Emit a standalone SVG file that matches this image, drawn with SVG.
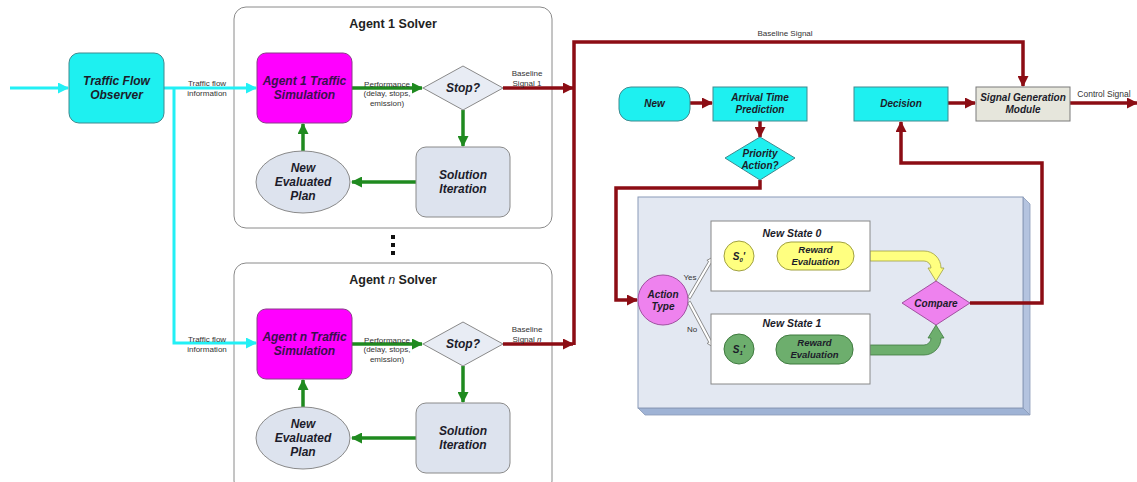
<svg xmlns="http://www.w3.org/2000/svg" width="1137" height="482" viewBox="0 0 1137 482">
<style>
text{font-family:"Liberation Sans",Arial,sans-serif;}
.nt{font-weight:bold;font-style:italic;font-size:12px;fill:#1c1c2a;text-anchor:middle;}
.n10{font-weight:bold;font-style:italic;font-size:10px;fill:#1c1c2a;text-anchor:middle;}
.rw{font-weight:bold;font-style:italic;font-size:9.5px;fill:#1c1c2a;text-anchor:middle;}
.st{font-weight:bold;font-style:italic;font-size:12px;fill:#3a0f4e;text-anchor:middle;}
.sm{font-size:8px;fill:#333;text-anchor:middle;}
.ti{font-weight:bold;font-size:12.5px;fill:#222;text-anchor:middle;}
.cont{fill:#fff;stroke:#8a8a8a;stroke-width:1;}
.sim{fill:#ff00ff;stroke:#8a3a8a;stroke-width:1;}
.grey{fill:#dde3ee;stroke:#8a8a8a;stroke-width:1;}
.dia{fill:#e8ecf4;stroke:#8a8a8a;stroke-width:1;}
.cy{fill:#1ef0f0;stroke:#3f8a8f;stroke-width:1;}
.cyl{stroke:#22f0f5;stroke-width:3;fill:none;}
.gl{stroke:#1f8a1f;stroke-width:3.5;fill:none;}
.rl{stroke:#8c0d14;stroke-width:3.5;fill:none;}
.vi{fill:#ee82ee;stroke:#a050a0;stroke-width:1;}
.hol{fill:#fff;stroke:#808080;stroke-width:0.8;}
</style>
<defs>
<marker id="ac" markerUnits="userSpaceOnUse" markerWidth="11" markerHeight="11" refX="10" refY="5.5" orient="auto"><path d="M0,0 L11,5.5 L0,11 z" fill="#22f0f5"/></marker>
<marker id="ag" markerUnits="userSpaceOnUse" markerWidth="11" markerHeight="11" refX="10" refY="5.5" orient="auto"><path d="M0,0 L11,5.5 L0,11 z" fill="#1f8a1f"/></marker>
<marker id="ar" markerUnits="userSpaceOnUse" markerWidth="11" markerHeight="11" refX="10" refY="5.5" orient="auto"><path d="M0,0 L11,5.5 L0,11 z" fill="#8c0d14"/></marker>
</defs>

<!-- containers -->
<g id="agent1-solver">
<rect class="cont" x="234" y="7" width="318" height="221" rx="12"/>
<text class="ti" x="393" y="28">Agent 1 Solver</text>
</g>
<g id="agentn-solver">
<rect class="cont" x="234" y="263" width="318" height="230" rx="12"/>
<text class="ti" x="393" y="284">Agent <tspan font-style="italic" font-weight="normal">n</tspan> Solver</text>
</g>
<g id="dots">
<rect x="391" y="235" width="4" height="4" fill="#111"/>
<rect x="391" y="243" width="4" height="4" fill="#111"/>
<rect x="391" y="251" width="4" height="4" fill="#111"/>
</g>
<g id="rl-panel">
<polygon points="1023,197 1030,204 1030,415 1023,408" fill="#b4c3df" stroke="#8a9ab8" stroke-width="0.8"/>
<polygon points="638,408 1023,408 1030,415 645,415" fill="#9fb3d5" stroke="#8a9ab8" stroke-width="0.8"/>
<rect x="638" y="197" width="385" height="211" fill="#e3e8f2" stroke="#8a9ab8" stroke-width="1"/>
</g>

<!-- connectors -->
<g id="connectors">
<line class="cyl" x1="10" y1="88" x2="68" y2="88" marker-end="url(#ac)"/>
<line class="cyl" x1="164" y1="88" x2="256" y2="88" marker-end="url(#ac)"/>
<polyline class="cyl" points="174,88 174,343 256,343" marker-end="url(#ac)"/>

<line class="gl" x1="352" y1="88" x2="422" y2="88" marker-end="url(#ag)"/>
<line class="gl" x1="463" y1="110" x2="463" y2="146" marker-end="url(#ag)"/>
<line class="gl" x1="416" y1="182" x2="352" y2="182" marker-end="url(#ag)"/>
<line class="gl" x1="303" y1="151" x2="303" y2="124" marker-end="url(#ag)"/>
<line class="gl" x1="352" y1="344" x2="422" y2="344" marker-end="url(#ag)"/>
<line class="gl" x1="463" y1="366" x2="463" y2="402" marker-end="url(#ag)"/>
<line class="gl" x1="416" y1="438" x2="352" y2="438" marker-end="url(#ag)"/>
<line class="gl" x1="303" y1="407" x2="303" y2="380" marker-end="url(#ag)"/>

<line class="rl" x1="503" y1="88" x2="573" y2="88" marker-end="url(#ar)"/>
<line class="rl" x1="503" y1="344" x2="573" y2="344" marker-end="url(#ar)"/>
<polyline class="rl" points="574,345 574,42 1023,42 1023,86" marker-end="url(#ar)"/>
<line class="rl" x1="690" y1="103" x2="712" y2="103" marker-end="url(#ar)"/>
<line class="rl" x1="760" y1="121" x2="760" y2="137" marker-end="url(#ar)"/>
<polyline class="rl" points="760,180 760,188 616,188 616,300 637,300" marker-end="url(#ar)"/>
<line class="rl" x1="948" y1="103" x2="975" y2="103" marker-end="url(#ar)"/>
<line class="rl" x1="1070" y1="103" x2="1137" y2="103" marker-end="url(#ar)"/>
<polyline class="rl" points="970,303 1042,303 1042,163 901,163 901,122" marker-end="url(#ar)"/>

<polygon class="hol" transform="translate(689,298) rotate(-59.7)" points="0,-1.5 41.5,-1.5 41.5,-3.5 47.5,0 41.5,3.5 41.5,1.5 0,1.5"/>
<polygon class="hol" transform="translate(689,302) rotate(61.9)" points="0,-1.5 45,-1.5 45,-3.5 51,0 45,3.5 45,1.5 0,1.5"/>
<path d="M870,251 H924 A17,17 0 0 1 941,268 H944 L936,281 L928,268 H931 A7,7 0 0 0 924,261 H870 Z" fill="#ffff80" stroke="#a0a040" stroke-width="0.8"/>
<path d="M870,355 H924 A17,17 0 0 0 941,338 H944 L936,325 L928,338 H931 A7,7 0 0 1 924,345 H870 Z" fill="#6dae6d" stroke="#3f7a3f" stroke-width="0.8"/>

<text class="sm" x="207" y="86">Traffic flow</text>
<text class="sm" x="207" y="96">information</text>
<text class="sm" x="207" y="342">Traffic flow</text>
<text class="sm" x="207" y="352">information</text>
<text class="sm" x="387" y="87">Performance</text>
<text class="sm" x="387" y="96">(delay, stops,</text>
<text class="sm" x="387" y="106">emission)</text>
<text class="sm" x="387" y="343">Performance</text>
<text class="sm" x="387" y="352">(delay, stops,</text>
<text class="sm" x="387" y="362">emission)</text>
<text class="sm" x="527" y="76">Baseline</text>
<text class="sm" x="527" y="86">Signal 1</text>
<text class="sm" x="527" y="332">Baseline</text>
<text class="sm" x="527" y="342">Signal <tspan font-style="italic">n</tspan></text>
<text class="sm" x="785" y="36">Baseline Signal</text>
<text class="sm" x="1104" y="97" style="font-size:8.5px">Control Signal</text>
<text class="sm" x="690" y="280">Yes</text>
<text class="sm" x="692" y="332">No</text>
</g>

<!-- nodes -->
<g id="traffic-flow-observer">
<rect class="cy" x="69" y="53" width="95" height="70" rx="10"/>
<text class="nt" x="116.5" y="85">Traffic Flow</text>
<text class="nt" x="116.5" y="99">Observer</text>
</g>
<g id="agent1-sim">
<rect class="sim" x="257" y="53" width="95" height="70" rx="9"/>
<text class="st" x="304.5" y="85">Agent 1 Traffic</text>
<text class="st" x="304.5" y="99">Simulation</text>
</g>
<g id="agent1-stop">
<polygon class="dia" points="423,88 463,66 503,88 463,110"/>
<text class="nt" x="463" y="92">Stop?</text>
</g>
<g id="agent1-solution">
<rect class="grey" x="416" y="147" width="94" height="70" rx="10"/>
<text class="nt" x="463" y="179">Solution</text>
<text class="nt" x="463" y="193">Iteration</text>
</g>
<g id="agent1-plan">
<ellipse class="grey" cx="303" cy="182" rx="47" ry="31"/>
<text class="nt" x="303" y="172">New</text>
<text class="nt" x="303" y="186">Evaluated</text>
<text class="nt" x="303" y="200">Plan</text>
</g>
<g id="agentn-sim">
<rect class="sim" x="257" y="309" width="95" height="70" rx="9"/>
<text class="st" x="304.5" y="341">Agent n Traffic</text>
<text class="st" x="304.5" y="355">Simulation</text>
</g>
<g id="agentn-stop">
<polygon class="dia" points="423,344 463,322 503,344 463,366"/>
<text class="nt" x="463" y="348">Stop?</text>
</g>
<g id="agentn-solution">
<rect class="grey" x="416" y="403" width="94" height="70" rx="10"/>
<text class="nt" x="463" y="435">Solution</text>
<text class="nt" x="463" y="449">Iteration</text>
</g>
<g id="agentn-plan">
<ellipse class="grey" cx="303" cy="438" rx="47" ry="31"/>
<text class="nt" x="303" y="428">New</text>
<text class="nt" x="303" y="442">Evaluated</text>
<text class="nt" x="303" y="456">Plan</text>
</g>
<g id="new">
<rect class="cy" x="619" y="87" width="71" height="34" rx="12"/>
<text class="n10" x="654.5" y="107">New</text>
</g>
<g id="arrival-time-prediction">
<rect class="cy" x="713" y="87" width="94" height="34"/>
<text class="n10" x="760" y="101">Arrival Time</text>
<text class="n10" x="760" y="113">Prediction</text>
</g>
<g id="priority-action">
<polygon class="cy" points="725,158 760,137 795,158 760,180"/>
<text class="n10" x="760" y="157">Priority</text>
<text class="n10" x="760" y="169">Action?</text>
</g>
<g id="decision">
<rect class="cy" x="854" y="87" width="94" height="34"/>
<text class="n10" x="901" y="107">Decision</text>
</g>
<g id="signal-generation-module">
<rect x="976" y="87" width="94" height="34" fill="#e6e6dc" stroke="#7a7a7a" stroke-width="1"/>
<text class="n10" x="1023" y="101">Signal Generation</text>
<text class="n10" x="1023" y="113">Module</text>
</g>
<g id="action-type">
<circle class="vi" cx="663" cy="300" r="25"/>
<text class="n10" x="663" y="298">Action</text>
<text class="n10" x="663" y="310">Type</text>
</g>
<g id="new-state-0">
<rect x="711" y="221" width="159" height="70" fill="#fff" stroke="#888" stroke-width="1"/>
<text class="n10" x="792" y="237" style="font-size:10.5px">New State 0</text>
<circle cx="739" cy="256" r="15" fill="#ffff80" stroke="#a0a040" stroke-width="1"/>
<text class="n10" x="739" y="260">S<tspan font-size="6" dy="2">0</tspan><tspan dy="-2">'</tspan></text>
<rect x="777" y="242" width="77" height="28" rx="14" fill="#ffff80" stroke="#a0a040" stroke-width="1"/>
<text class="rw" x="815.5" y="253">Reward</text>
<text class="rw" x="815.5" y="265">Evaluation</text>
</g>
<g id="new-state-1">
<rect x="711" y="314" width="159" height="70" fill="#fff" stroke="#888" stroke-width="1"/>
<text class="n10" x="792" y="327" style="font-size:10.5px">New State 1</text>
<circle cx="739" cy="349" r="15" fill="#6dae6d" stroke="#3f7a3f" stroke-width="1"/>
<text class="n10" x="739" y="353">S<tspan font-size="6" dy="2">1</tspan><tspan dy="-2">'</tspan></text>
<rect x="776" y="335" width="77" height="29" rx="14" fill="#6dae6d" stroke="#3f7a3f" stroke-width="1"/>
<text class="rw" x="814.5" y="346">Reward</text>
<text class="rw" x="814.5" y="358">Evaluation</text>
</g>
<g id="compare">
<polygon class="vi" points="902,303 936,281 970,303 936,325"/>
<text class="n10" x="936" y="307">Compare</text>
</g>
</svg>
